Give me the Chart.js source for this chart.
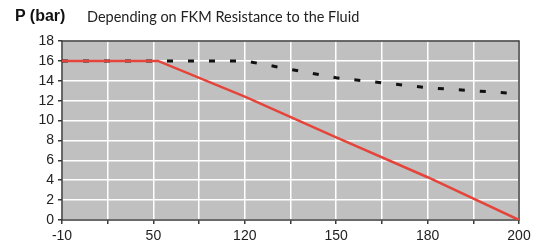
<!DOCTYPE html>
<html lang="en">
<head>
    <meta charset="UTF-8">
    <title>P (bar) vs temperature</title>
    <style>
        body {
            margin: 0;
            padding: 0;
            background: #fff;
        }

        .wrap {
            position: relative;
            width: 541px;
            height: 252px;
        }

        .unit {
            position: absolute;
            left: 15px;
            top: 7px;
            font-family: "Liberation Sans Narrow", "Liberation Sans", Arial, sans-serif;
            font-weight: bold;
            font-size: 16px;
            color: #111;
        }

        .note {
            position: absolute;
            left: 87px;
            top: 8px;
            font-family: Lato, "Open Sans", sans-serif;
            font-size: 14.5px;
            color: #222;
        }
    </style>
</head>
<body>
    <div class="wrap">
        <canvas id="chart" width="541" height="252"></canvas>
        <div class="unit">P (bar)</div>
        <div class="note">Depending on FKM Resistance to the Fluid</div>
    </div>
    <script src="https://cdn.jsdelivr.net/npm/chart.js"></script>
    <script>
        // x positions are grid slots (0..10), labels every second slot
        const xLabels = ['-10', '50', '120', '150', '180', '200'];

        const redX = [0, 2.1, 4, 6, 8, 10];
        const redY = [16, 16, 12.4, 8.3, 4.3, 0];

        const blackX = [0, 4, 6, 8, 10];
        const blackY = [16, 16, 14.3, 13.3, 12.7];

        const toPoints = (xs, ys) => xs.map((x, i) => ({ x: x, y: ys[i] }));

        const plotFrame = {
            id: 'plotFrame',
            beforeDraw(chart) {
                const { ctx, chartArea: a } = chart;
                ctx.save();
                ctx.fillStyle = '#c0c0c0';
                ctx.fillRect(a.left, a.top, a.right - a.left, a.bottom - a.top);
                ctx.restore();
            },
            beforeDatasetsDraw(chart) {
                const { ctx, chartArea: a } = chart;
                ctx.save();
                ctx.strokeStyle = '#3a3a3a';
                ctx.lineWidth = 1.5;
                ctx.strokeRect(a.left, a.top, a.right - a.left, a.bottom - a.top);
                ctx.restore();
            }
        };

        new Chart(document.getElementById('chart'), {
            type: 'line',
            data: {
                datasets: [
                    {
                        data: toPoints(redX, redY),
                        borderColor: '#e5443a',
                        borderWidth: 2.5,
                        pointRadius: 0,
                        tension: 0,
                        order: 0
                    },
                    {
                        data: toPoints(blackX, blackY),
                        borderColor: '#111',
                        borderWidth: 3,
                        borderDash: [6, 15],
                        pointRadius: 0,
                        tension: 0,
                        order: 1
                    }
                ]
            },
            options: {
                responsive: false,
                animation: false,
                layout: {
                    padding: { top: 41, right: 22, left: 0, bottom: 0 }
                },
                plugins: {
                    legend: { display: false },
                    tooltip: { enabled: false }
                },
                scales: {
                    x: {
                        type: 'linear',
                        min: 0,
                        max: 10,
                        afterFit: s => { s.height = 32; },
                        ticks: {
                            stepSize: 1,
                            autoSkip: false,
                            maxRotation: 0,
                            padding: 4,
                            color: '#222',
                            font: { family: '"Liberation Sans", Arial, sans-serif', size: 14 },
                            callback: v => (v % 2 === 0 ? xLabels[v / 2] : '')
                        },
                        grid: {
                            color: '#ffffff',
                            lineWidth: 1.5,
                            tickColor: '#3a3a3a',
                            tickLength: 4
                        },
                        border: { display: false }
                    },
                    y: {
                        min: 0,
                        max: 18,
                        afterFit: s => { s.width = 62; },
                        ticks: {
                            stepSize: 2,
                            padding: 4,
                            color: '#222',
                            font: { family: '"Liberation Sans", Arial, sans-serif', size: 14 }
                        },
                        grid: {
                            color: '#ffffff',
                            lineWidth: 1.5,
                            tickColor: '#3a3a3a',
                            tickLength: 4
                        },
                        border: { display: false }
                    }
                }
            },
            plugins: [plotFrame]
        });
    </script>
</body>
</html>
